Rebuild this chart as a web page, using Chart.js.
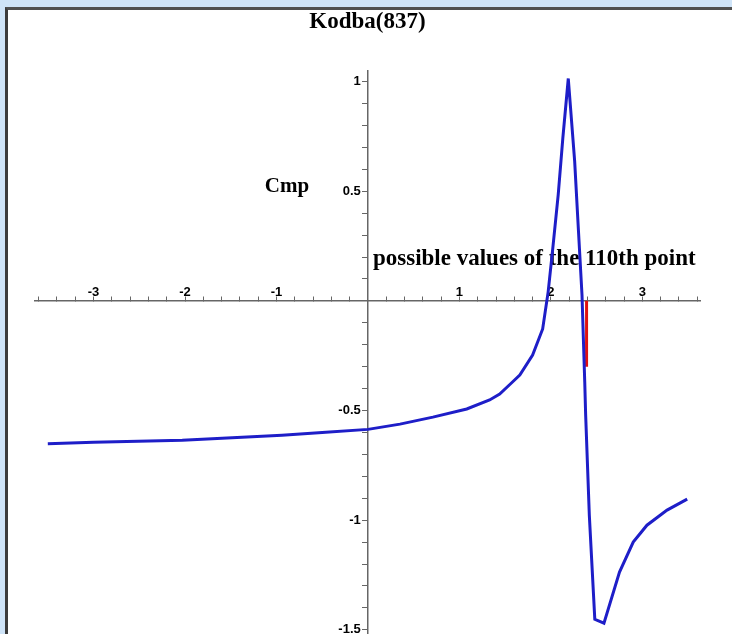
<!DOCTYPE html>
<html>
<head>
<meta charset="utf-8">
<script src="https://cdn.jsdelivr.net/npm/chart.js@4/dist/chart.umd.min.js"></script>
<style>
  html, body { margin: 0; padding: 0; }
  body { width: 732px; height: 634px; background: #cfe4f8; position: relative; overflow: hidden; }
  .panel { position: absolute; left: 5px; top: 7px; right: 0; bottom: 0; background: #fff;
           border-left: 3px solid #3c3c3c; border-top: 3px solid #505050; }
  canvas { position: absolute; left: 0; top: 0; }
</style>
</head>
<body>
<div class="panel"></div>
<canvas id="plot" width="732" height="645"></canvas>
<script>
// curve
const xVals = [-3.50, -3.00, -2.03, -0.94, -0.50, 0.00, 0.35, 0.71, 1.08, 1.33, 1.44, 1.58, 1.66, 1.80, 1.91, 1.97,
               2.02, 2.08, 2.13, 2.19, 2.26, 2.30, 2.34, 2.37, 2.38, 2.42, 2.48, 2.58, 2.75, 2.90, 3.05, 3.27, 3.49];
const yVals = [-0.652, -0.645, -0.636, -0.613, -0.600, -0.586, -0.562, -0.530, -0.493, -0.452, -0.425, -0.370, -0.338, -0.247, -0.128, 0.041,
               0.237, 0.484, 0.740, 1.014, 0.635, 0.329, 0.027, -0.370, -0.521, -0.977, -1.452, -1.470, -1.237, -1.100, -1.023, -0.954, -0.904];

// red marker (110th point)
const markX = [2.39, 2.39];
const markY = [0, -0.30];

const xTickLabels = [-3, -2, -1, 1, 2, 3];
const yTickLabels = [1, 0.5, -0.5, -1, -1.5];

const titleText = 'Kodba(837)';
const yAxisText = 'Cmp';
const xAxisText = 'possible values of the 110th point';

function pts(xs, ys) {
    return xs.map((x, i) => ({ x: x, y: ys[i] }));
}

function pickLabel(list, tail) {
    return function (v) {
        const hit = list.find(t => Math.abs(t - v) < 1e-6);
        return hit === undefined ? '' : String(hit) + tail;
    };
}

// axis captions, drawn under the curve
const axisText = {
    id: 'axisText',
    beforeDatasetsDraw(chart) {
        const ctx = chart.ctx;
        const xs = chart.scales.x, ys = chart.scales.y;
        ctx.save();
        ctx.fillStyle = '#000';
        ctx.font = 'bold 21px "Liberation Serif"';
        ctx.textBaseline = 'middle';
        ctx.textAlign = 'center';
        ctx.fillText(yAxisText, xs.getPixelForValue(-0.885), ys.getPixelForValue(0.52));
        ctx.font = 'bold 23px "Liberation Serif"';
        ctx.textAlign = 'left';
        ctx.fillText(xAxisText, xs.getPixelForValue(0.055), ys.getPixelForValue(0.19));
        ctx.restore();
    }
};

const tickFont = { family: '"Liberation Sans"', size: 13, weight: 'bold' };

new Chart(document.getElementById('plot'), {
    type: 'scatter',
    data: {
        datasets: [{
            data: pts(xVals, yVals),
            showLine: true,
            borderColor: '#1e1ec8',
            borderWidth: 3,
            pointRadius: 0,
            tension: 0
        }, {
            data: pts(markX, markY),
            showLine: true,
            borderColor: '#e01010',
            borderWidth: 3,
            pointRadius: 0
        }]
    },
    options: {
        responsive: false,
        animation: false,
        layout: { padding: { left: 35, right: 32, top: 0, bottom: 0 } },
        plugins: {
            legend: { display: false },
            tooltip: { enabled: false },
            title: {
                display: true,
                text: titleText,
                color: '#000',
                font: { family: '"Liberation Serif"', size: 23, weight: 'bold' },
                padding: { top: 8, bottom: 35 }
            }
        },
        scales: {
            x: {
                type: 'linear',
                position: { y: 0 },
                min: -3.64,
                max: 3.63,
                border: { display: true, color: '#666', width: 1.5 },
                grid: { drawOnChartArea: false, drawTicks: true, tickLength: -5, color: '#666' },
                ticks: {
                    stepSize: 0.2,
                    includeBounds: false,
                    autoSkip: false,
                    maxRotation: 0,
                    padding: -11,
                    color: '#000',
                    font: tickFont,
                    callback: pickLabel(xTickLabels, '')
                }
            },
            y: {
                type: 'linear',
                position: { x: 0 },
                min: -1.52,
                max: 1.05,
                border: { display: true, color: '#666', width: 1.5 },
                grid: { drawOnChartArea: false, drawTicks: true, tickLength: 5, color: '#666' },
                ticks: {
                    stepSize: 0.1,
                    includeBounds: false,
                    autoSkip: false,
                    color: '#000',
                    font: tickFont,
                    callback: pickLabel(yTickLabels, '  ')
                }
            }
        }
    },
    plugins: [axisText]
});
</script>
</body>
</html>
